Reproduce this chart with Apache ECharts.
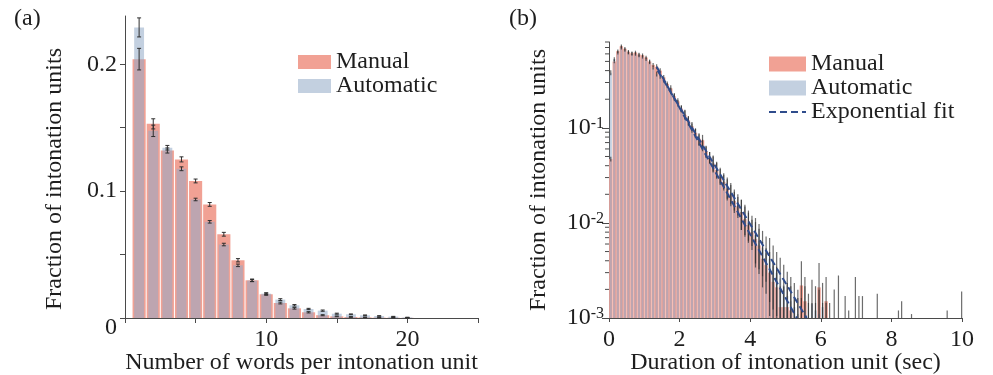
<!DOCTYPE html>
<html><head><meta charset="utf-8">
<script src="https://cdn.jsdelivr.net/npm/echarts@6/dist/echarts.min.js"></script>
<style>html,body{margin:0;padding:0;background:#fff}#c{width:993px;height:375px}</style>
</head><body><div id="c"></div>
<script>
// ---------- Panel (a): words per intonation unit ----------
const wordCounts = [1,2,3,4,5,6,7,8,9,10,11,12,13,14,15,16,17,18,19,20];
const manualWords = [0.204,0.153,0.132,0.125,0.108,0.0895,0.066,0.0455,0.0297,0.0187,0.0118,0.0076,0.0045,0.0022,0.0013,0.0008,0.0005,0.0003,0.0002,0.0001];
const autoWords   = [0.229,0.1475,0.1342,0.1176,0.0934,0.0758,0.0579,0.0415,0.0295,0.0192,0.0145,0.0100,0.0071,0.0058,0.0034,0.0029,0.0021,0.0016,0.0011,0.0005];
const manualWordsErr = [0.0085,0.004,0.002,0.002,0.0015,0.0015,0.0015,0.0013,0.001,0.0008,0.0007,0.0006,0.0005,0.0004,0.0003,0.0003,0.0002,0.0002,0.0002,0.0001];
const autoWordsErr   = [0.0075,0.0045,0.0018,0.0015,0.001,0.001,0.001,0.001,0.0008,0.0007,0.0007,0.0006,0.0005,0.0005,0.0004,0.0003,0.0003,0.0002,0.0002,0.0001];
const wordTicks = [0,5,10,15,20,25];
const wordTickLabels = [10,20];
const fracTicks = [0,0.05,0.1,0.15,0.2];
const fracTickLabels = [0,0.1,0.2];

// ---------- Panel (b): duration histogram (0.1 s bins starting at 0) ----------
const durBinWidth = 0.1;
const manualDur = [0.047,0.50,0.64,0.72,0.68,0.63,0.61,0.62,0.59,0.58,
  0.55,0.50,0.46,0.44,0.40,0.34,0.29,0.26,0.215,0.19,
  0.16,0.137,0.12,0.104,0.089,0.077,0.074,0.057,0.049,0.042,
  0.036,0.031,0.027,0.023,0.020,0.017,0.015,0.013,0.011,0.0095,
  0.008,0.0068,0.0058,0.0042,0.0036,0.0030,0.0024,0.0021,0.0013,0.0013,
  0.0013,0.0012,0.0009,0.0009,0.0022,0.0015,0.0008,0.0008,0.0008,0.0021,
  0.0008,0.0015,0];
const autoDur = [0.38,0.53,0.62,0.70,0.66,0.62,0.60,0.60,0.58,0.56,
  0.53,0.49,0.43,0.37,0.35,0.32,0.28,0.245,0.21,0.182,
  0.158,0.14,0.118,0.10,0.088,0.075,0.066,0.056,0.049,0.043,
  0.037,0.032,0.028,0.024,0.021,0.018,0.016,0.013,0.0115,0.010,
  0.0088,0.0075,0.0065,0.0055,0.0048,0.0042,0.0035,0.0030,0.0026,0.0022,
  0.0017,0.0015,0.0013,0.0011,0.0009,0.0012,0.0010,0.0014,0.0012,0.0011,
  0.0013,0.0008,0.0008];
const durErrRel = [0.06,
  0.045,0.045,0.045,0.045,0.045,0.045,0.045,0.045,0.045,0.045,0.045,0.045,
  0.06,0.06,0.06,0.06, 0.08,0.08,0.08,0.08, 0.11,0.11,0.11,0.11,
  0.14,0.14,0.14,0.14, 0.19,0.19,0.19,0.19, 0.25,0.25,0.25,0.25,
  0.35,0.35,0.35,0.35, 0.5,0.5,0.5,0.5, 0.65,0.65,0.65,0.65,0.65,
  0.8,0.8,0.8,0.8,0.8,0.8,0.8,0.8,0.8,0.8,0.8,0.8,0.8];
const tailDur   = [6.38,6.50,6.69,6.79,6.98,7.08,7.18,7.60,8.20,8.29,8.57,9.58,9.99];
const tailDurHi = [0.0020,0.0028,0.0017,0.0012,0.0027,0.0017,0.0017,0.0018,0.0012,0.0015,0.0011,0.0012,0.0019];
const fitLineA = [[1.35,0.44],[5.32,0.001]];
const fitLineB = [[1.38,0.40],[5.60,0.001]];
const durTicks = [0,2,4,6,8,10];
const logMajor = [0.001,0.01,0.1];
const logMinor = [0.002,0.003,0.004,0.005,0.006,0.007,0.008,0.009,
                  0.02,0.03,0.04,0.05,0.06,0.07,0.08,0.09,
                  0.2,0.3,0.4,0.5,0.6,0.7,0.8];

// ---------- styling ----------
const FONT = 'Liberation Serif';
const TXT = '#1e1e1e';
const AXC = '#4a4a4a';
const MAN = '#f1a194';
const AUT = 'rgba(146,170,198,0.55)';
const ERR = '#2e2e2e';
const FIT = '#2f4c8c';
const LOG_MIN = 0.001, LOG_MAX = 0.8;

function barItem(halfW, base) {
  return function (params, api) {
    const x = api.value(0), v = api.value(1);
    if (!(v > base)) return null;
    const p0 = api.coord([x - halfW, v]);
    const p1 = api.coord([x + halfW, base]);
    return { type: 'rect',
      shape: { x: p0[0], y: p0[1], width: p1[0] - p0[0], height: p1[1] - p0[1] },
      style: api.style() };
  };
}
function errItem(base, capW, color, lw) {
  return function (params, api) {
    const x = api.value(0); let lo = api.value(1); const hi = api.value(2);
    if (!(hi > base)) return null;
    if (!(lo > base)) lo = base;
    const a = api.coord([x, hi]), b = api.coord([x, lo]);
    const ch = [{ type: 'line', shape: { x1: a[0], y1: a[1], x2: b[0], y2: b[1] }, style: { stroke: color, lineWidth: lw } }];
    if (capW > 0) {
      ch.push({ type: 'line', shape: { x1: a[0]-capW/2, y1: a[1], x2: a[0]+capW/2, y2: a[1] }, style: { stroke: color, lineWidth: lw } });
      ch.push({ type: 'line', shape: { x1: b[0]-capW/2, y1: b[1], x2: b[0]+capW/2, y2: b[1] }, style: { stroke: color, lineWidth: lw } });
    }
    return { type: 'group', children: ch };
  };
}

const binCenter = i => (i + 0.5) * durBinWidth;
const manualDurData = manualDur.map((v, i) => [binCenter(i), v]);
const autoDurData = autoDur.map((v, i) => [binCenter(i), v]);
const durErrData = [];
manualDur.forEach((v, i) => { if (v > 0) durErrData.push([binCenter(i), v * (1 - durErrRel[i]), v * (1 + durErrRel[i])]); });
autoDur.forEach((v, i) => { if (v > 0) durErrData.push([binCenter(i), v * (1 - durErrRel[i]), v * (1 + durErrRel[i])]); });
tailDur.forEach((x, i) => durErrData.push([x, 0.0001, tailDurHi[i]]));

const wordErrData = [];
wordCounts.forEach((x, i) => {
  wordErrData.push([x, manualWords[i] - manualWordsErr[i], manualWords[i] + manualWordsErr[i]]);
  wordErrData.push([x, autoWords[i] - autoWordsErr[i], autoWords[i] + autoWordsErr[i]]);
});

const nameStyle = { fontFamily: FONT, fontSize: 24, color: TXT };
const labelStyle = { fontFamily: FONT, fontSize: 24, color: TXT };

const chart = echarts.init(document.getElementById('c'), null, { renderer: 'canvas' });
chart.setOption({
  animation: false,
  backgroundColor: '#fff',
  graphic: [
    { type: 'text', left: 14, top: 7, style: { text: '(a)', font: '24px "Liberation Serif"', fill: TXT } },
    { type: 'text', left: 509, top: 7, style: { text: '(b)', font: '24px "Liberation Serif"', fill: TXT } }
  ],
  legend: [
    { data: [{ name: 'Manual', icon: 'rect' }, { name: 'Automatic', icon: 'rect' }],
      orient: 'vertical', left: 293, top: 45, itemWidth: 33, itemHeight: 14, itemGap: 0,
      selectedMode: false, textStyle: { fontFamily: FONT, fontSize: 24, color: TXT, lineHeight: 23 } },
    { data: [{ name: 'Manual', icon: 'rect' }, { name: 'Automatic', icon: 'rect' },
             { name: 'Exponential fit', itemStyle: { opacity: 0 } }],
      orient: 'vertical', left: 763, top: 47, itemWidth: 37, itemHeight: 15, itemGap: 0,
      selectedMode: false, textStyle: { fontFamily: FONT, fontSize: 24, color: TXT, lineHeight: 22 } }
  ],
  grid: [
    { left: 125, top: 16, width: 353, height: 302, outerBoundsMode: 'none', containLabel: false },
    { left: 609, top: 42, width: 353, height: 276, outerBoundsMode: 'none', containLabel: false }
  ],
  xAxis: [
    { type: 'value', gridIndex: 0, min: 0, max: 25, interval: 5,
      name: 'Number of words per intonation unit', nameLocation: 'middle', nameGap: 33, nameMoveOverlap: false,
      nameTextStyle: nameStyle,
      axisLine: { lineStyle: { color: AXC, width: 1 } },
      axisTick: { length: 5, lineStyle: { color: AXC }, customValues: wordTicks },
      axisLabel: Object.assign({ margin: 10, customValues: wordTickLabels }, labelStyle),
      splitLine: { show: false } },
    { type: 'value', gridIndex: 1, min: 0, max: 10, interval: 2,
      name: 'Duration of intonation unit (sec)', nameLocation: 'middle', nameGap: 33, nameMoveOverlap: false,
      nameTextStyle: nameStyle,
      axisLine: { lineStyle: { color: AXC, width: 1 } },
      axisTick: { length: 4, lineStyle: { color: AXC }, customValues: durTicks },
      axisLabel: Object.assign({ margin: 10, customValues: durTicks }, labelStyle),
      splitLine: { show: false } }
  ],
  yAxis: [
    { type: 'value', gridIndex: 0, min: 0, max: 0.238, interval: 0.05,
      name: 'Fraction of intonation units', nameLocation: 'middle', nameGap: 58,
      nameTextStyle: Object.assign({ padding: [0, 24, 0, 0] }, nameStyle),
      axisLine: { show: true, lineStyle: { color: AXC, width: 1 } },
      axisTick: { show: true, length: 5, lineStyle: { color: AXC }, customValues: fracTicks },
      axisLabel: Object.assign({ margin: 8, customValues: fracTickLabels, lineHeight: 20,
        formatter: v => (v === 0 ? '\n0' : String(v)) }, labelStyle),
      splitLine: { show: false } },
    { type: 'log', logBase: 10, gridIndex: 1, min: LOG_MIN, max: LOG_MAX,
      name: 'Fraction of intonation units', nameLocation: 'middle', nameGap: 58, nameTextStyle: nameStyle,
      axisLine: { show: true, lineStyle: { color: AXC, width: 1 } },
      axisTick: { show: true, length: 7, lineStyle: { color: AXC }, customValues: logMajor },
      axisLabel: { margin: 5, customValues: logMajor,
        formatter: v => '{b|10}{s|' + Math.round(Math.log10(v)) + '}',
        rich: { b: { fontFamily: FONT, fontSize: 24, color: TXT },
                s: { fontFamily: FONT, fontSize: 16, color: TXT, verticalAlign: 'top' } } },
      splitLine: { show: false } }
  ],
  series: [
    // panel (a)
    { name: 'Manual', type: 'custom', xAxisIndex: 0, yAxisIndex: 0, renderItem: barItem(0.465, 0),
      itemStyle: { color: MAN }, encode: { x: 0, y: 1 }, data: wordCounts.map((x, i) => [x, manualWords[i]]), z: 2 },
    { name: 'Automatic', type: 'custom', xAxisIndex: 0, yAxisIndex: 0, renderItem: barItem(0.35, 0),
      itemStyle: { color: AUT }, encode: { x: 0, y: 1 }, data: wordCounts.map((x, i) => [x, autoWords[i]]), z: 3 },
    { name: 'errA', type: 'custom', xAxisIndex: 0, yAxisIndex: 0, renderItem: errItem(0, 4, ERR, 1),
      encode: { x: 0, y: 2 }, data: wordErrData, z: 4, silent: true },
    // panel (b)
    { name: 'Manual', type: 'custom', xAxisIndex: 1, yAxisIndex: 1, renderItem: barItem(0.048, LOG_MIN),
      itemStyle: { color: MAN }, encode: { x: 0, y: 1 }, data: manualDurData, z: 2 },
    { name: 'Automatic', type: 'custom', xAxisIndex: 1, yAxisIndex: 1, renderItem: barItem(0.031, LOG_MIN),
      itemStyle: { color: AUT }, encode: { x: 0, y: 1 }, data: autoDurData, z: 3 },
    { name: 'errB', type: 'custom', xAxisIndex: 1, yAxisIndex: 1, renderItem: errItem(LOG_MIN, 0, 'rgba(45,45,45,0.7)', 1.2),
      encode: { x: 0, y: 2 }, data: durErrData, z: 4, silent: true },
    { name: 'Exponential fit', type: 'line', xAxisIndex: 1, yAxisIndex: 1, data: fitLineA,
      symbol: 'none', showSymbol: false, lineStyle: { color: FIT, width: 2, type: [7, 4] }, itemStyle: { color: FIT }, z: 5 },
    { name: 'fit2', type: 'line', xAxisIndex: 1, yAxisIndex: 1, data: fitLineB,
      symbol: 'none', lineStyle: { color: FIT, width: 2, type: [7, 4] }, itemStyle: { color: FIT }, z: 5 },
    { name: 'minorTicks', type: 'custom', xAxisIndex: 1, yAxisIndex: 1, silent: true, z: 6,
      encode: { x: 0, y: 1 }, data: logMinor.map(v => [0, v]),
      renderItem: function (params, api) {
        const p = api.coord([0, api.value(1)]);
        return { type: 'line', shape: { x1: p[0] - 4, y1: p[1], x2: p[0], y2: p[1] }, style: { stroke: AXC, lineWidth: 1 } };
      } }
  ]
});
</script></body></html>
